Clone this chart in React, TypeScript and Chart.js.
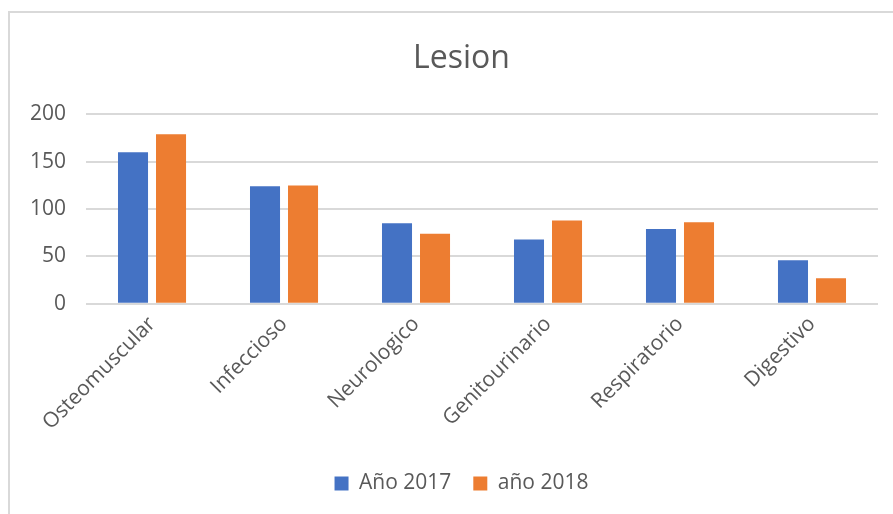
import React, { useEffect, useRef } from "react";
import { Chart, registerables } from "chart.js";

Chart.register(...registerables);

const categories = ["Osteomuscular", "Infeccioso", "Neurologico", "Genitourinario", "Respiratorio", "Digestivo"];
const series2017 = [160, 124, 85, 68, 79, 46];
const series2018 = [179, 125, 74, 88, 86, 27];
const seriesNames = ["Año 2017", "año 2018"];
const yTicks = [0, 50, 100, 150, 200];

const FONT = "'Open Sans', 'Noto Sans', sans-serif";
const TEXT = "#595959";

export default function App() {
  const ref = useRef<HTMLCanvasElement>(null);
  useEffect(() => {
    document.body.style.margin = "0";
    const ctx = ref.current!;
    const chart = new Chart(ctx, {
      type: "bar",
      data: {
        labels: categories,
        datasets: [
          { label: seriesNames[0], data: series2017, backgroundColor: "#4472C4", categoryPercentage: 0.576, barPercentage: 0.79 },
          { label: seriesNames[1], data: series2018, backgroundColor: "#ED7D31", categoryPercentage: 0.576, barPercentage: 0.79 },
        ],
      },
      options: {
        animation: false,
        responsive: false,
        maintainAspectRatio: false,
        layout: { padding: { left: 0, right: 0, top: 0, bottom: 10 } },
        plugins: {
          title: {
            display: true,
            text: "Lesion",
            color: TEXT,
            font: { family: FONT, size: 32, weight: "normal" },
            padding: { top: 27, bottom: 36 },
          },
          legend: {
            position: "bottom",
            labels: {
              color: TEXT,
              font: { family: FONT, size: 21 },
              boxWidth: 14,
              boxHeight: 14,
              padding: 22,
            },
          },
          tooltip: { enabled: false },
        },
        scales: {
          x: {
            grid: { display: false },
            border: { display: false },
            ticks: {
              color: TEXT,
              font: { family: FONT, size: 21 },
              maxRotation: 45,
              minRotation: 45,
              padding: 0,
            },
            afterFit: (s: any) => {
              s.height += 16;
            },
          },
          y: {
            min: 0,
            max: 200,
            afterBuildTicks: (axis: any) => {
              axis.ticks = yTicks.map((v) => ({ value: v }));
            },
            grid: { color: "#d9d9d9", lineWidth: 2, drawTicks: false },
            border: { display: false },
            ticks: {
              color: TEXT,
              font: { family: FONT, size: 21 },
              padding: 20,
            },
          },
          yRight: {
            position: "right",
            display: true,
            grid: { display: false },
            border: { display: false },
            ticks: { display: false },
            afterFit: (s: any) => {
              s.width = 35;
            },
          },
        },
      },
    });
    return () => chart.destroy();
  }, []);
  return (
    <div
      style={{
        position: "absolute",
        left: 8,
        top: 11,
        width: 885,
        height: 503,
        borderLeft: "2px solid #d9d9d9",
        borderTop: "2px solid #d9d9d9",
        background: "#fff",
        boxSizing: "border-box",
        overflow: "hidden",
      }}
    >
      <canvas ref={ref} width={903} height={501} style={{ display: "block" }} />
    </div>
  );
}
